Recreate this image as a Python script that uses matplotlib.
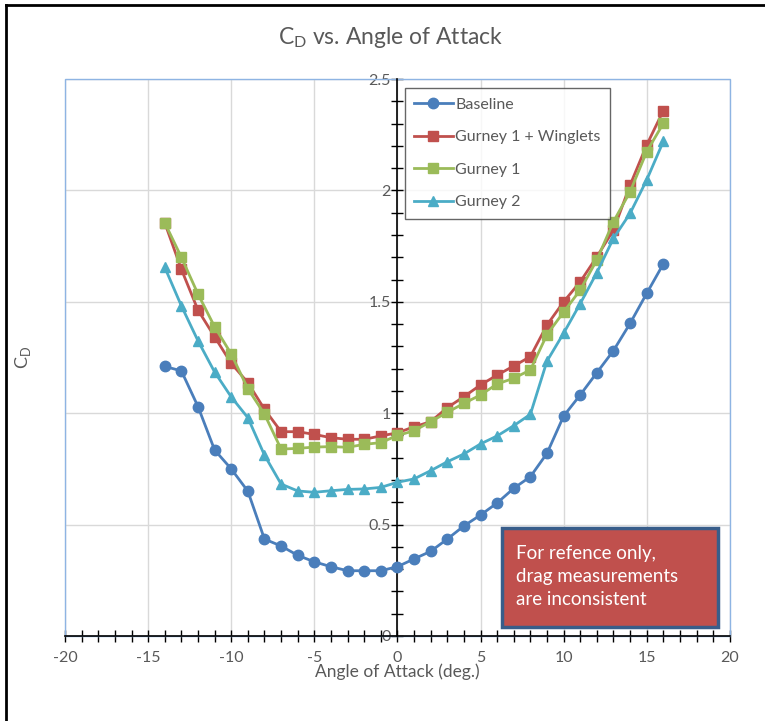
import matplotlib.pyplot as plt
import matplotlib.ticker as ticker
from matplotlib.patches import Rectangle
from matplotlib.lines import Line2D

plt.rcParams['font.family'] = ['Lato', 'DejaVu Sans']
plt.rcParams['axes.unicode_minus'] = False

angles = list(range(-14, 17))
baseline = [1.21, 1.19, 1.03, 0.835, 0.75, 0.65, 0.435, 0.404, 0.362, 0.333,
            0.311, 0.293, 0.293, 0.293, 0.311, 0.346, 0.38, 0.435, 0.494, 0.543,
            0.597, 0.663, 0.715, 0.82, 0.987, 1.082, 1.182, 1.281, 1.403, 1.538, 1.67]
gurney1_winglets = [1.855, 1.646, 1.463, 1.343, 1.224, 1.137, 1.018, 0.917, 0.917, 0.905,
                    0.89, 0.883, 0.883, 0.898, 0.912, 0.939, 0.962, 1.025, 1.074, 1.127,
                    1.171, 1.212, 1.254, 1.396, 1.5, 1.59, 1.702, 1.822, 2.024, 2.204, 2.358]
gurney1 = [1.855, 1.70, 1.535, 1.388, 1.266, 1.11, 0.996, 0.839, 0.842, 0.848,
           0.85, 0.847, 0.86, 0.868, 0.9, 0.921, 0.962, 1.004, 1.044, 1.082,
           1.131, 1.157, 1.194, 1.353, 1.454, 1.553, 1.688, 1.86, 1.994, 2.174, 2.301]
gurney2 = [1.655, 1.482, 1.325, 1.185, 1.073, 0.98, 0.812, 0.682, 0.651, 0.645,
           0.652, 0.658, 0.66, 0.667, 0.69, 0.705, 0.742, 0.782, 0.817, 0.862,
           0.898, 0.944, 0.995, 1.234, 1.359, 1.492, 1.631, 1.785, 1.897, 2.047, 2.22]

series = [("Baseline", baseline, '#4a7ebb', 'o'),
          ("Gurney 1 + Winglets", gurney1_winglets, '#c0504d', 's'),
          ("Gurney 1", gurney1, '#9bbb59', 's'),
          ("Gurney 2", gurney2, '#4bacc6', '^')]

grey = '#595959'
fig = plt.figure(figsize=(7.65, 7.21), dpi=100)
ax = fig.add_axes([0.085, 0.1179, 0.869, 0.7725])

for name, vals, col, mk in series:
    ax.plot(angles, vals, color=col, marker=mk, markersize=7.5, linewidth=2,
            label=name, zorder=3)

ax.set_xlim(-20, 20)
ax.set_ylim(0, 2.5)
ax.xaxis.set_major_locator(ticker.MultipleLocator(5))
ax.xaxis.set_minor_locator(ticker.MultipleLocator(1))
ax.yaxis.set_major_locator(ticker.MultipleLocator(0.5))
ax.yaxis.set_minor_locator(ticker.MultipleLocator(0.1))
ax.yaxis.set_major_formatter(ticker.FuncFormatter(lambda v, p: '%g' % v))
ax.grid(True, which='major', color='#d9d9d9', linewidth=1, zorder=0)
ax.set_axisbelow(True)

# axes crossing at the origin
ax.spines['left'].set_position(('data', 0))
ax.spines['bottom'].set_position(('data', 0))
ax.spines['right'].set_visible(False)
ax.spines['top'].set_visible(False)
for s in ('left', 'bottom'):
    ax.spines[s].set_color('black')
    ax.spines[s].set_linewidth(1.2)
ax.tick_params(which='both', direction='inout', length=8, width=1, color='black',
               labelcolor=grey, labelsize=11.5)
ax.tick_params(axis='y', pad=1)
ax.tick_params(axis='x', pad=7)

# plot area border
ax.add_patch(Rectangle((0, 0), 1, 1, transform=ax.transAxes, fill=False,
                       edgecolor='#8eb4e3', linewidth=1, zorder=1, clip_on=False))

ax.set_xlabel("Angle of Attack (deg.)", color=grey, fontsize=12.5)
ax.xaxis.set_label_coords(0.5, -0.05)
ax.set_ylabel("C$_\\mathregular{D}$", color=grey, fontsize=13)
ax.yaxis.set_label_coords(-0.048, 0.5)

fig.text(0.51, 0.948, "C$_\\mathregular{D}$ vs. Angle of Attack", ha='center', va='center',
         color=grey, fontsize=16.5)

leg = ax.legend(loc='upper left', bbox_to_anchor=(0.511, 0.984), borderaxespad=0,
                frameon=True, fancybox=False, edgecolor='#404040', fontsize=11.5,
                labelspacing=1.15, handlelength=2.4, handletextpad=0.15,
                borderpad=0.6)
leg.get_frame().set_linewidth(1)
for t in leg.get_texts():
    t.set_color(grey)

# note box
ax.add_patch(Rectangle((0.657, 0.016), 0.325, 0.178, transform=ax.transAxes,
                       facecolor='#c0504d', edgecolor='#385d8a', linewidth=2.5, zorder=5))
ax.text(0.679, 0.107, "For refence only,\ndrag measurements\nare inconsistent",
        transform=ax.transAxes, color='white', fontsize=13.5, va='center', ha='left',
        linespacing=1.45, zorder=6)

# outer frame (top and left visible)
fig.add_artist(Line2D([6 / 765, 6 / 765], [0, 1 - 5 / 721], transform=fig.transFigure,
                      color='black', linewidth=2))
fig.add_artist(Line2D([6 / 765, 1], [1 - 5 / 721, 1 - 5 / 721], transform=fig.transFigure,
                      color='black', linewidth=2))

fig.savefig("out.png", dpi=100)
